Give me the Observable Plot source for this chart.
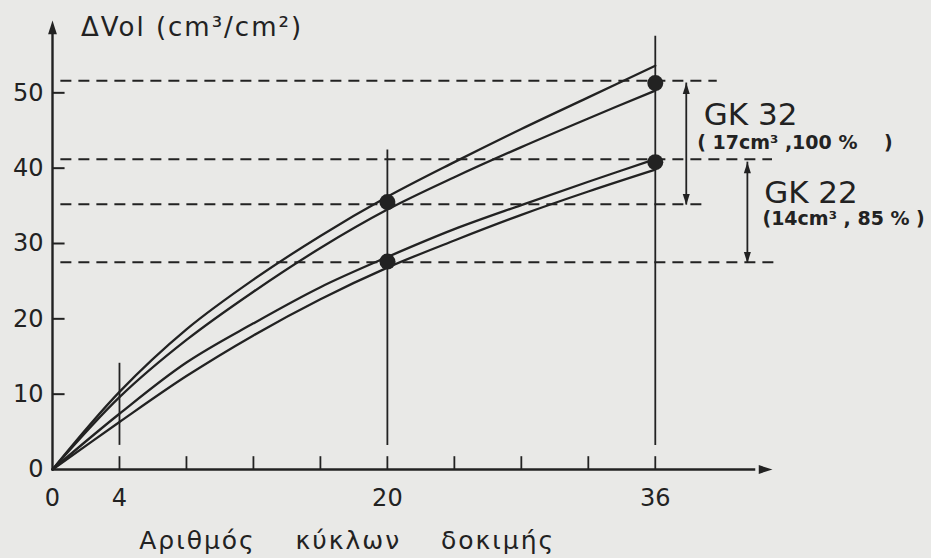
<!DOCTYPE html>
<html>
<head>
<meta charset="utf-8">
<script src="https://cdn.jsdelivr.net/npm/d3@7"></script>
<script src="https://cdn.jsdelivr.net/npm/@observablehq/plot@0.6"></script>
<style>
  html, body { margin: 0; padding: 0; background: #e9e9e7; }
  #chart svg { display: block; }
</style>
</head>
<body>
<div id="chart"></div>
<script>
// ---- data ----
const cycles      = [0, 4, 8, 12, 16, 20, 24, 28, 32, 36];
const gk32Top     = [0, 10.3, 18.6, 25.2, 31.0, 36.2, 40.8, 45.2, 49.4, 53.6];
const gk32Bottom  = [0, 9.6, 17.2, 23.6, 29.4, 34.5, 38.8, 42.8, 46.6, 50.3];
const gk22Top     = [0, 7.4, 14.2, 19.4, 24.2, 28.2, 31.9, 35.1, 38.2, 41.2];
const gk22Bottom  = [0, 6.3, 12.4, 17.8, 22.6, 26.8, 30.4, 33.8, 36.9, 39.8];

const markCycles  = [20, 36];
const gk32Marks   = [35.5, 51.3];
const gk22Marks   = [27.6, 40.8];

const refLevels   = [51.6, 41.2, 35.2, 27.5];
const refEnds     = [39.7, 43.0, 39.0, 43.5];

const guideCycles = [4, 20, 36];
const guideTops   = [14.1, 42.4, 57.5];

const xTickValues = [4, 8, 12, 16, 20, 24, 28, 32, 36];
const xTickLabels = [0, 4, 20, 36];
const yTickValues = [10, 20, 30, 40, 50];
const yTickLabels = [0, 10, 20, 30, 40, 50];

const spans = [
  {name: "GK 32", x: 37.85, from: 51.3, to: 35.1},
  {name: "GK 22", x: 41.5,  from: 40.8, to: 27.4}
];

// ---- derived tables ----
const curves = [
  ...cycles.map((c, i) => ({x: c, y: gk32Top[i],    line: "gk32a"})),
  ...cycles.map((c, i) => ({x: c, y: gk32Bottom[i], line: "gk32b"})),
  ...cycles.map((c, i) => ({x: c, y: gk22Top[i],    line: "gk22a"})),
  ...cycles.map((c, i) => ({x: c, y: gk22Bottom[i], line: "gk22b"}))
];
const marks = [
  ...markCycles.map((c, i) => ({x: c, y: gk32Marks[i]})),
  ...markCycles.map((c, i) => ({x: c, y: gk22Marks[i]}))
];
const refs = refLevels.map((v, i) => ({y: v, x2: refEnds[i]}));
const guides = guideCycles.map((c, i) => ({x: c, top: guideTops[i]}));

const ink = "#222";
const font = "DejaVu Sans, sans-serif";
const yTitle = "ΔVol (cm³/cm²)";
const xTitle = "Αριθμός\u00a0\u00a0\u00a0 κύκλων\u00a0\u00a0\u00a0 δοκιμής";

// narrow filled arrow head, tip at the symbol origin, pointing up
const head = {
  draw(ctx, size) {
    const l = Math.sqrt(size) * 1.55, w = l * 0.32;
    ctx.moveTo(0, 0);
    ctx.lineTo(w, l);
    ctx.lineTo(-w, l);
    ctx.closePath();
  }
};

const chart = Plot.plot({
  width: 931,
  height: 558,
  marginLeft: 52,
  marginRight: 159,
  marginTop: 17,
  marginBottom: 89,
  x: {domain: [0, 43], axis: null},
  y: {domain: [0, 60], axis: null},
  style: {background: "#e9e9e7", fontFamily: font, color: ink, overflow: "visible"},
  marks: [
    // dashed reference levels
    Plot.ruleY(refs, {y: "y", x1: 0.5, x2: "x2", stroke: ink, strokeWidth: 2, strokeDasharray: "11,7"}),
    // vertical guide lines
    Plot.ruleX(guides, {x: "x", y1: 3.2, y2: "top", stroke: ink, strokeWidth: 1.8}),
    // axes
    Plot.ruleX([0], {y1: 0, y2: 58.5, stroke: ink, strokeWidth: 2.4}),
    Plot.ruleY([0], {x1: 0, x2: 42.0, stroke: ink, strokeWidth: 2.4}),
    Plot.dot([{x: 0, y: 59.6}], {x: "x", y: "y", symbol: head, r: 5, fill: ink, stroke: null}),
    Plot.dot([{x: 43.0, y: 0}], {x: "x", y: "y", symbol: head, r: 5, fill: ink, stroke: null, rotate: 90}),
    Plot.ruleX(xTickValues, {y1: 0, y2: 1.7, stroke: ink, strokeWidth: 1.8}),
    Plot.ruleY(yTickValues, {x1: 0, x2: 0.75, stroke: ink, strokeWidth: 2}),
    Plot.text(xTickLabels, {x: d => d, y: 0, dy: 29, text: d => String(d), fontSize: 24, fill: ink}),
    Plot.text(yTickLabels, {x: 0, y: d => d, dx: -9, text: d => String(d), textAnchor: "end", fontSize: 24, fill: ink}),
    // curves
    Plot.line(curves, {x: "x", y: "y", z: "line", stroke: ink, strokeWidth: 2.3, curve: "catmull-rom"}),
    Plot.dot(marks, {x: "x", y: "y", r: 8, fill: ink, stroke: null}),
    // span arrows
    Plot.ruleX(spans, {x: "x", y1: "from", y2: "to", stroke: ink, strokeWidth: 1.8}),
    Plot.dot(spans, {x: "x", y: "from", symbol: head, r: 4, fill: ink, stroke: null}),
    Plot.dot(spans, {x: "x", y: "to", symbol: head, r: 4, fill: ink, stroke: null, rotate: 180}),
    // annotations
    Plot.text(["GK 32"], {x: 38.9, y: 47.0, text: d => d, textAnchor: "start", fontSize: 31, fill: ink}),
    Plot.text(["( 17cm³ ,100 %\u00a0\u00a0\u00a0 )"], {x: 38.5, y: 43.3, text: d => d, textAnchor: "start", fontSize: 19, fontWeight: "bold", fill: ink}),
    Plot.text(["GK 22"], {x: 42.5, y: 36.7, text: d => d, textAnchor: "start", fontSize: 31, fill: ink}),
    Plot.text(["(14cm³ , 85 % )"], {x: 42.4, y: 33.3, text: d => d, textAnchor: "start", fontSize: 19, fontWeight: "bold", fill: ink}),
    // axis titles
    Plot.text([yTitle], {x: 1.7, y: 58.7, text: d => d, textAnchor: "start", fontSize: 26, fill: ink}),
    Plot.text([xTitle], {x: 17.6, y: 0, dy: 71, text: d => d, fontSize: 25, fill: ink})
  ]
});

// widen the hand-lettered titles a little
d3.select(chart).selectAll("text")
  .filter(function() { return this.textContent === yTitle || this.textContent === xTitle; })
  .attr("letter-spacing", "2px");

document.getElementById("chart").appendChild(chart);
</script>
</body>
</html>
